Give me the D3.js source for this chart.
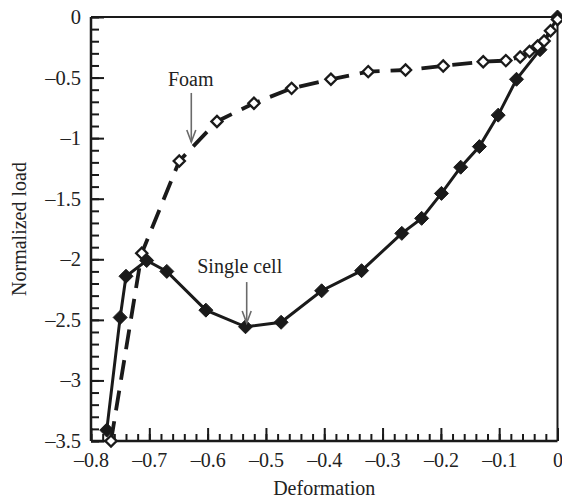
<!DOCTYPE html>
<html>
<head>
<meta charset="utf-8">
<script src="https://cdn.jsdelivr.net/npm/d3@7"></script>
<style>
  html, body { margin: 0; padding: 0; background: #fff; }
  svg { display: block; }
  text { font-family: "Liberation Serif", "DejaVu Serif", serif; fill: #222; }
</style>
</head>
<body>
<svg id="chart" width="562" height="502"></svg>
<script>
// ---- data ----
const singleX = [-0.773, -0.750, -0.740, -0.7045, -0.670, -0.603, -0.535, -0.474, -0.4045, -0.336, -0.267, -0.233, -0.199, -0.166, -0.134, -0.1017, -0.0703, -0.030, 0.0];
const singleY = [-3.41, -2.48, -2.14, -2.01, -2.10, -2.42, -2.557, -2.52, -2.26, -2.094, -1.786, -1.662, -1.456, -1.24, -1.07, -0.81, -0.514, -0.27, 0.0];
const foamX = [-0.7657, -0.713, -0.6486, -0.584, -0.5206, -0.456, -0.3886, -0.3246, -0.2606, -0.196, -0.1274, -0.0886, -0.064, -0.048, -0.034, -0.023, -0.012, 0.0];
const foamY = [-3.50, -1.95, -1.189, -0.862, -0.712, -0.589, -0.514, -0.451, -0.4375, -0.404, -0.369, -0.360, -0.330, -0.285, -0.240, -0.198, -0.113, -0.02];
const xMajorTicks = [-0.8, -0.7, -0.6, -0.5, -0.4, -0.3, -0.2, -0.1, 0];
const yMajorTicks = [0, -0.5, -1, -1.5, -2, -2.5, -3, -3.5];
const xLabel = "Deformation";
const yLabel = "Normalized load";
const annotations = [
  {text: "Foam", tx: -0.629, ty: -0.57, ax: -0.628, y1: -0.627, y2: -1.032},
  {text: "Single cell", tx: -0.545, ty: -2.113, ax: -0.533, y1: -2.188, y2: -2.526}
];

// ---- chart ----
const svg = d3.select("#chart");
const x = d3.scaleLinear().domain([-0.8, 0]).range([91, 557.5]);
const y = d3.scaleLinear().domain([-3.5, 0]).range([441, 17]);
const fmt = d => d === 0 ? "0" : "\u2013" + d3.format("~g")(Math.abs(d));
const ink = "#1a1a1a";

// minor ticks
const xMinor = d3.range(-0.8, 0.0001, 0.02).map(v => +v.toFixed(2));
const yMinor = d3.range(-3.5, 0.0001, 0.1).map(v => +v.toFixed(1));

svg.append("g").attr("transform", `translate(0,${y(-3.5)})`)
  .call(d3.axisBottom(x).tickValues(xMinor).tickSize(-7).tickFormat(""))
  .call(g => g.select(".domain").remove())
  .call(g => g.selectAll("line").attr("stroke", ink).attr("stroke-width", 2));
svg.append("g").attr("transform", `translate(${x(-0.8)},0)`)
  .call(d3.axisLeft(y).tickValues(yMinor).tickSize(-8).tickFormat(""))
  .call(g => g.select(".domain").remove())
  .call(g => g.selectAll("line").attr("stroke", ink).attr("stroke-width", 2));

const gx = svg.append("g").attr("transform", `translate(0,${y(-3.5)})`)
  .call(d3.axisBottom(x).tickValues(xMajorTicks).tickSize(-13).tickFormat(fmt))
  .call(g => g.select(".domain").remove())
  .call(g => g.selectAll("line").attr("stroke", ink).attr("stroke-width", 2));
gx.selectAll("text").attr("y", 26).attr("dy", 0).attr("font-size", 20)
  .attr("font-family", "Liberation Serif").attr("fill", ink);

const gy = svg.append("g").attr("transform", `translate(${x(-0.8)},0)`)
  .call(d3.axisLeft(y).tickValues(yMajorTicks).tickSize(-13).tickFormat(fmt))
  .call(g => g.select(".domain").remove())
  .call(g => g.selectAll("line").attr("stroke", ink).attr("stroke-width", 2));
gy.selectAll("text").attr("x", -10).attr("font-size", 20.5)
  .attr("font-family", "Liberation Serif").attr("fill", ink);

// frame
svg.append("line").attr("x1", x(-0.8)).attr("x2", x(0)).attr("y1", y(0)).attr("y2", y(0)).attr("stroke", ink).attr("stroke-width", 2);
svg.append("line").attr("x1", x(0)).attr("x2", x(0)).attr("y1", y(0)).attr("y2", y(-3.5)).attr("stroke", ink).attr("stroke-width", 2);
svg.append("line").attr("x1", x(-0.8)).attr("x2", x(0)).attr("y1", y(-3.5)).attr("y2", y(-3.5)).attr("stroke", ink).attr("stroke-width", 2.5);
svg.append("line").attr("x1", x(-0.8)).attr("x2", x(-0.8)).attr("y1", y(0)).attr("y2", y(-3.5)).attr("stroke", ink).attr("stroke-width", 2.5);

// axis labels
svg.append("text").attr("x", (x(-0.8) + x(0)) / 2).attr("y", 495).attr("text-anchor", "middle")
  .attr("font-size", 20).text(xLabel);
svg.append("text").attr("transform", `translate(26,${(y(0) + y(-3.5)) / 2}) rotate(-90)`)
  .attr("text-anchor", "middle").attr("font-size", 20).text(yLabel);

// series
const foam = foamX.map((v, i) => [v, foamY[i]]);
const single = singleX.map((v, i) => [v, singleY[i]]);
const line = d3.line().x(d => x(d[0])).y(d => y(d[1]));

svg.append("path").datum(foam).attr("d", line).attr("fill", "none")
  .attr("stroke", ink).attr("stroke-width", 3.8).attr("stroke-dasharray", "20,11");
svg.append("path").datum(single).attr("d", line).attr("fill", "none")
  .attr("stroke", ink).attr("stroke-width", 3);

const diamond = r => `M0,${-r}L${r},0L0,${r}L${-r},0Z`;
svg.append("g").selectAll("path").data(single).join("path")
  .attr("transform", d => `translate(${x(d[0])},${y(d[1])})`)
  .attr("d", diamond(7)).attr("fill", ink).attr("stroke", ink).attr("stroke-width", 1).attr("stroke-linejoin", "round");
svg.append("g").selectAll("path").data(foam).join("path")
  .attr("transform", d => `translate(${x(d[0])},${y(d[1])})`)
  .attr("d", diamond(5.6)).attr("fill", "#fff").attr("stroke", ink).attr("stroke-width", 2.3);

// annotations
const grey = "#6a6a6a";
annotations.forEach(a => {
  svg.append("text").attr("x", x(a.tx)).attr("y", y(a.ty)).attr("text-anchor", "middle")
    .attr("font-size", 20).text(a.text);
  const ax = x(a.ax), ty = y(a.y2);
  svg.append("line").attr("x1", ax).attr("x2", ax).attr("y1", y(a.y1)).attr("y2", ty)
    .attr("stroke", grey).attr("stroke-width", 1.6);
  svg.append("path").attr("d", `M${ax - 4.5},${ty - 12}L${ax},${ty}L${ax + 4.5},${ty - 12}`)
    .attr("fill", "none").attr("stroke", grey).attr("stroke-width", 1.6);
});
</script>
</body>
</html>
